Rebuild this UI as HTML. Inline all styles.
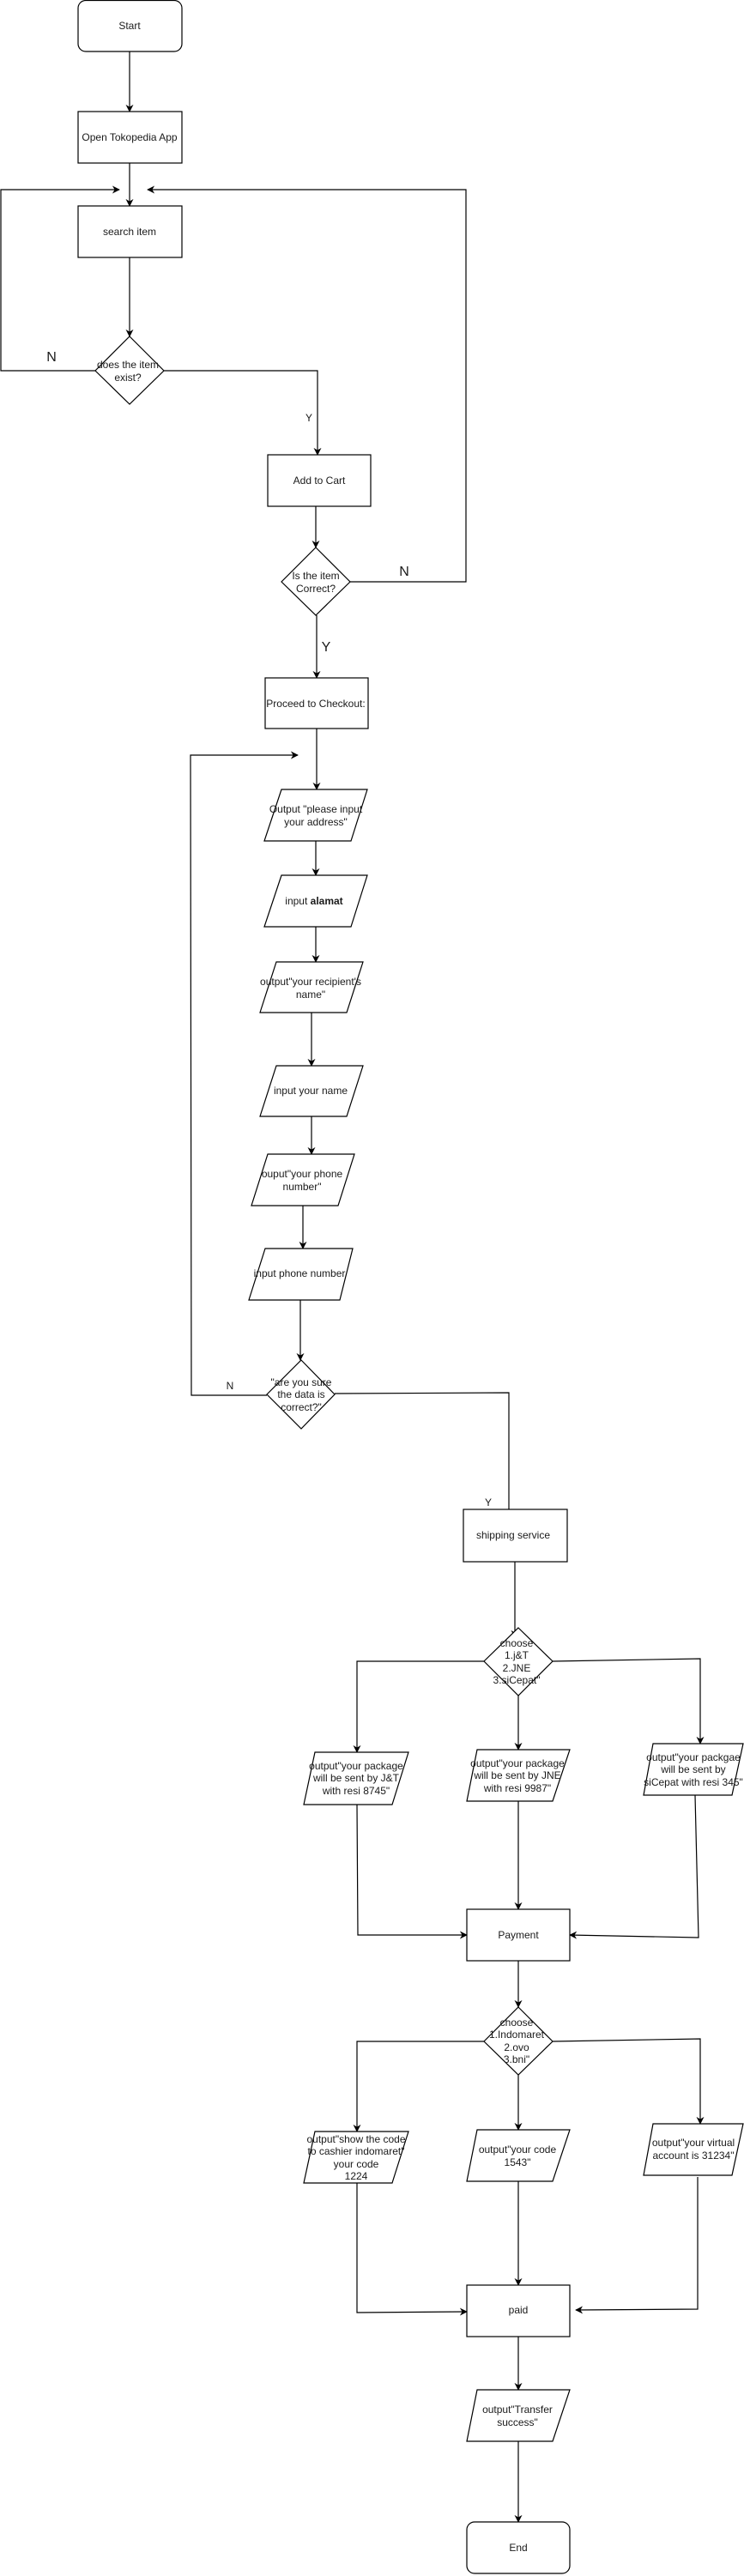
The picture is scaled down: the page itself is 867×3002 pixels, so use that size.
<!DOCTYPE html>
<html><head><meta charset="utf-8"><style>
html,body{margin:0;padding:0;background:#fff;}
svg{display:block;}
text{font-family:"Liberation Sans",sans-serif;font-size:12px;fill:#1a1a1a;text-anchor:middle;}
.big{font-size:16px;}
.s{stroke:#000;stroke-width:1.2;fill:none;}
.b{stroke:#000;stroke-width:1.2;fill:#fff;}
</style></head><body>
<svg width="867" height="3002" viewBox="0 0 867 3002" xmlns="http://www.w3.org/2000/svg">
<defs><marker id="a" viewBox="0 0 10 10" refX="9" refY="5" markerWidth="9" markerHeight="9" markerUnits="userSpaceOnUse" orient="auto"><path d="M0,0 L10,5 L0,10 L3,5 z" fill="#000"/></marker></defs>

<!-- connectors -->
<g class="s">
<line x1="151" y1="60" x2="151" y2="130" marker-end="url(#a)"/>
<line x1="151" y1="190" x2="151" y2="240" marker-end="url(#a)"/>
<polyline points="111,432 1,432 1,221 139,221" marker-end="url(#a)"/>
<polyline points="408,678 543,678 543,221 172,221" marker-end="url(#a)"/>
<line x1="151" y1="300" x2="151" y2="392" marker-end="url(#a)"/>
<polyline points="191,432 370,432 370,530" marker-end="url(#a)"/>
<line x1="368" y1="590" x2="368" y2="638" marker-end="url(#a)"/>
<line x1="369" y1="717" x2="369" y2="790" marker-end="url(#a)"/>
<line x1="369" y1="849" x2="369" y2="920" marker-end="url(#a)"/>
<polyline points="311,1626 223,1626 222,880 347,880" marker-end="url(#a)"/>
<line x1="368" y1="980" x2="368" y2="1020" marker-end="url(#a)"/>
<line x1="368" y1="1080" x2="368" y2="1121" marker-end="url(#a)"/>
<line x1="363" y1="1180" x2="363" y2="1242" marker-end="url(#a)"/>
<line x1="363" y1="1301" x2="363" y2="1345" marker-end="url(#a)"/>
<line x1="353" y1="1405" x2="353" y2="1455" marker-end="url(#a)"/>
<line x1="350" y1="1515" x2="350" y2="1585" marker-end="url(#a)"/>
<polyline points="390,1624 593,1623 593,1759"/>
<line x1="600" y1="1820" x2="600" y2="1908" marker-end="url(#a)"/>
<polyline points="564,1936 416,1936 416,2042" marker-end="url(#a)"/>
<line x1="604" y1="1976" x2="604" y2="2039" marker-end="url(#a)"/>
<polyline points="644,1936 816,1933 816,2032" marker-end="url(#a)"/>
<polyline points="416,2103 417,2255 544,2255" marker-end="url(#a)"/>
<line x1="604" y1="2099" x2="604" y2="2225" marker-end="url(#a)"/>
<polyline points="810,2092 814,2258 664,2255" marker-end="url(#a)"/>
<line x1="604" y1="2285" x2="604" y2="2339" marker-end="url(#a)"/>
<polyline points="564,2379 416,2379 416,2484" marker-end="url(#a)"/>
<line x1="604" y1="2418" x2="604" y2="2482" marker-end="url(#a)"/>
<polyline points="644,2379 816,2376 816,2475" marker-end="url(#a)"/>
<polyline points="416,2544 416,2695 544,2694" marker-end="url(#a)"/>
<line x1="604" y1="2542" x2="604" y2="2663" marker-end="url(#a)"/>
<polyline points="813,2537 813,2691 671,2692" marker-end="url(#a)"/>
<line x1="604" y1="2723" x2="604" y2="2785" marker-end="url(#a)"/>
<line x1="604" y1="2845" x2="604" y2="2939" marker-end="url(#a)"/>
</g>

<!-- shapes -->
<g class="b">
<rect x="91" y="0.5" width="121" height="59.5" rx="9"/>
<rect x="91" y="130" width="121" height="60"/>
<rect x="91" y="240" width="121" height="60"/>
<polygon points="151,392 191,432 151,471 111,432"/>
<rect x="312" y="530" width="120" height="60"/>
<polygon points="368,638 408,678 368,717 328,678"/>
<rect x="309" y="790" width="120" height="59"/>
<polygon points="328,920 428,920 409,980 308,980"/>
<polygon points="328,1020 428,1020 409,1080 308,1080"/>
<polygon points="322,1121 423,1121 404,1180 303,1180"/>
<polygon points="322,1242 423,1242 404,1301 303,1301"/>
<polygon points="312,1345 413,1345 394,1405 293,1405"/>
<polygon points="309,1455 411,1455 396,1515 290,1515"/>
<polygon points="351,1585 390,1625 351,1665 311,1625"/>
<rect x="540" y="1759" width="121" height="61"/>
<polygon points="604,1897 644,1936 604,1976 564,1936"/>
<polygon points="367,2042 476,2042 457,2103 354,2103"/>
<polygon points="556,2039 664,2039 644,2099 544,2099"/>
<polygon points="761,2032 866,2032 853,2092 750,2092"/>
<rect x="544" y="2225" width="120" height="60"/>
<polygon points="604,2339 644,2379 604,2418 564,2379"/>
<polygon points="367,2484 476,2484 457,2544 354,2544"/>
<polygon points="556,2482 664,2482 644,2542 544,2542"/>
<polygon points="761,2475 866,2475 853,2535 750,2535"/>
<rect x="544" y="2663" width="120" height="60"/>
<polygon points="556,2785 664,2785 644,2845 544,2845"/>
<rect x="544" y="2939" width="120" height="60" rx="9"/>
</g>

<!-- labels -->
<text x="151" y="34">Start</text>
<text x="151" y="164">Open Tokopedia App</text>
<text x="151" y="274">search item</text>
<text x="149" y="429">does the item</text><text x="149" y="444">exist?</text>
<text class="big" x="60" y="421">N</text>
<text x="360" y="491">Y</text>
<text x="372" y="564">Add to Cart</text>
<text x="368" y="675">Is the item</text><text x="368" y="690">Correct?</text>
<text class="big" x="471" y="671">N</text>
<text class="big" x="380" y="759">Y</text>
<text x="368" y="824">Proceed to Checkout:</text>
<text x="368" y="947">Output "please input</text><text x="368" y="962">your address"</text>
<text x="366" y="1054">input <tspan font-weight="bold">alamat</tspan></text>
<text x="362" y="1148">output"your recipient's</text><text x="362" y="1163">name"</text>
<text x="362" y="1275">input your name</text>
<text x="352" y="1372">ouput"your phone</text><text x="352" y="1387">number"</text>
<text x="349" y="1488">input phone number</text>
<text x="351" y="1615">"are you sure</text><text x="351" y="1629">the data is</text><text x="351" y="1644">correct?"</text>
<text x="268" y="1619">N</text>
<text x="569" y="1755">Y</text>
<text x="598" y="1793">shipping service</text>
<text x="602" y="1919">choose</text><text x="602" y="1933">1.j&amp;T</text><text x="602" y="1948">2.JNE</text><text x="602" y="1962">3.siCepat"</text>
<text x="415" y="2062">output"your package</text><text x="415" y="2076">will be sent by J&amp;T</text><text x="415" y="2091">with resi 8745"</text>
<text x="603" y="2059">output"your package</text><text x="603" y="2073">will be sent by JNE</text><text x="603" y="2088">with resi 9987"</text>
<text x="808" y="2052">output"your packgae</text><text x="808" y="2066">will be sent by</text><text x="808" y="2081">siCepat with resi 345"</text>
<text x="604" y="2259">Payment</text>
<text x="602" y="2361">choose</text><text x="602" y="2375">1.Indomaret</text><text x="602" y="2390">2.ovo</text><text x="602" y="2404">3.bni"</text>
<text x="415" y="2497">output"show the code</text><text x="415" y="2511">to cashier indomaret"</text><text x="415" y="2526">your code</text><text x="415" y="2540">1224</text>
<text x="603" y="2509">output"your code</text><text x="603" y="2524">1543"</text>
<text x="808" y="2501">output"your virtual</text><text x="808" y="2516">account is 31234"</text>
<text x="604" y="2696">paid</text>
<text x="603" y="2812">output"Transfer</text><text x="603" y="2827">success"</text>
<text x="604" y="2973">End</text>
</svg>
</body></html>
